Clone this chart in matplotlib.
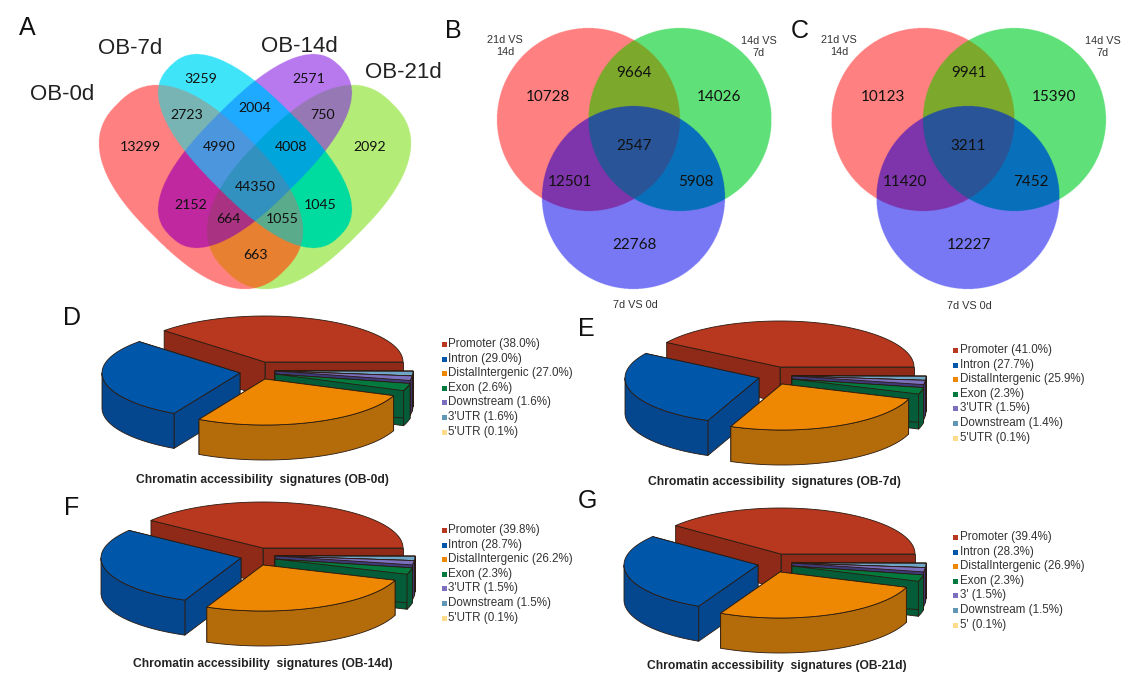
import numpy as np
import matplotlib
matplotlib.use('Agg')
import matplotlib.pyplot as plt
from matplotlib.patches import Polygon

plt.rcParams['font.family'] = ['Liberation Sans', 'DejaVu Sans']

# venn counts
venn_a_names = ['OB-0d', 'OB-7d', 'OB-14d', 'OB-21d']
venn_a_counts = [13299, 3259, 2571, 2092, 2723, 2004, 750, 4990, 4008, 44350,
                 2152, 1045, 664, 1055, 663]
venn_b_counts = [10728, 14026, 9664, 2547, 12501, 5908, 22768]
venn_c_counts = [10123, 15390, 9941, 3211, 11420, 7452, 12227]
venn_names = ['21d VS\n14d', '14d VS\n7d', '7d VS 0d']

# pie values
pie_d_labels = ['Promoter', 'Intron', 'DistalIntergenic', 'Exon', 'Downstream', "3'UTR", "5'UTR"]
pie_d_values = [38.0, 29.0, 27.0, 2.6, 1.6, 1.6, 0.1]
pie_e_labels = ['Promoter', 'Intron', 'DistalIntergenic', 'Exon', "3'UTR", 'Downstream', "5'UTR"]
pie_e_values = [41.0, 27.7, 25.9, 2.3, 1.5, 1.4, 0.1]
pie_f_labels = ['Promoter', 'Intron', 'DistalIntergenic', 'Exon', "3'UTR", 'Downstream', "5'UTR"]
pie_f_values = [39.8, 28.7, 26.2, 2.3, 1.5, 1.5, 0.1]
pie_g_labels = ['Promoter', 'Intron', 'DistalIntergenic', 'Exon', "3'", 'Downstream', "5'"]
pie_g_values = [39.4, 28.3, 26.9, 2.3, 1.5, 1.5, 0.1]

top_colors = ['#B8381F', '#0056A9', '#EE8802', '#057A3E', '#7B70BE', '#6FA6C8', '#FFDF90']
side_colors = ['#8E2A17', '#05478F', '#B46C0A', '#045C38', '#3F3A7A', '#3F3A7A', '#3F3A7A']
key_colors = ['#B8381F', '#0056A9', '#EE8802', '#057A3E', '#7B70BE', '#5F97B5', '#FFDB8C']

# colours of the overlap regions, keyed by set bits
venn4_colors = {1: (255, 128, 128), 2: (64, 228, 248), 4: (184, 120, 238), 8: (180, 236, 120),
                3: (120, 180, 180), 5: (192, 40, 160), 6: (30, 170, 255), 12: (150, 120, 180),
                10: (0, 220, 160), 9: (232, 128, 50), 7: (75, 150, 220), 14: (0, 165, 220),
                13: (170, 50, 130), 11: (90, 170, 140), 15: (50, 145, 190), 0: (255, 255, 255)}
venn3_colors = {1: (255, 128, 128), 2: (96, 224, 120), 4: (120, 120, 245),
                3: (124, 168, 44), 5: (126, 52, 170), 6: (8, 112, 186), 7: (42, 84, 152),
                0: (255, 255, 255)}


def region_image(ax, masks, colors, extent, xx):
    idx = np.zeros(xx.shape, dtype=int)
    for bit, mask in enumerate(masks):
        idx += mask.astype(int) << bit
    rgb = np.zeros(xx.shape + (3,), dtype=np.uint8)
    for key, col in colors.items():
        rgb[idx == key] = col
    ax.imshow(rgb, extent=extent, origin='upper', interpolation='antialiased', zorder=1, aspect='auto')


def grid(extent, ss=3):
    x0, x1, y1, y0 = extent
    xs = np.arange(x0, x1, 1 / ss) + 0.5 / ss
    ys = np.arange(y0, y1, 1 / ss) + 0.5 / ss
    return np.meshgrid(xs, ys)


def ellipse_mask(xx, yy, cx, cy, a, b, sign, p=2.5):
    dx, dy = xx - cx, yy - cy
    u = (dx + sign * dy) / np.sqrt(2)
    v = (dx - sign * dy) / np.sqrt(2)
    return np.abs(u / a) ** p + np.abs(v / b) ** p <= 1


def arc(cx, cy, rx, ry, t0, t1):
    t = np.radians(np.linspace(t0, t1, max(int(abs(t1 - t0)) + 2, 3)))
    return np.column_stack([cx + rx * np.cos(t), cy - ry * np.sin(t)])


def pie3d(ax, values, hub, rx, offsets, ry=46, depth=35):
    edges = np.concatenate([[0], np.cumsum(values)]) / np.sum(values) * 360
    # back to front
    for i in [0, 6, 5, 4, 3, 1, 2]:
        t0, t1 = edges[i], edges[i + 1]
        cx, cy = hub[0] + offsets[i][0], hub[1] + offsets[i][1]
        style = dict(lw=0.6, ec='#2a1a10', joinstyle='round')
        for t in (t0, t1):
            p = arc(cx, cy, rx, ry, t, t)[0]
            ax.add_patch(Polygon([(cx, cy), p, (p[0], p[1] + depth), (cx, cy + depth)],
                                 fc=side_colors[i], zorder=3, **style))
        r0, r1 = max(t0, 180), min(t1, 360)
        if r1 > r0:
            a = arc(cx, cy, rx, ry, r0, r1)
            ax.add_patch(Polygon(np.vstack([a, (a + [0, depth])[::-1]]),
                                 fc=side_colors[i], zorder=3, **style))
        ax.add_patch(Polygon(np.vstack([[cx, cy], arc(cx, cy, rx, ry, t0, t1)]),
                             fc=top_colors[i], zorder=3, **style))


def legend(ax, labels, values, x, y):
    for i, (lab, val) in enumerate(zip(labels, values)):
        yy = y + i * 14.6
        ax.plot([x], [yy], 's', ms=3.6, color=key_colors[i], mew=0, zorder=4)
        ax.text(x + 4.5, yy, f'{lab} ({val:.1f}%)', fontsize=8.4, color='#333333', va='center', ha='left')


fig = plt.figure(figsize=(11.47, 6.84), dpi=100)
ax = fig.add_axes([0, 0, 1, 1])

# panel A
ext_a = (90, 420, 295, 45)
xx, yy = grid(ext_a)
masks = [ellipse_mask(xx, yy, 201, 187, 118, 68, 1),
         ellipse_mask(xx, yy, 255, 151, 120, 52, 1),
         ellipse_mask(xx, yy, 255, 151, 120, 52, -1),
         ellipse_mask(xx, yy, 309, 187, 118, 68, -1)]
region_image(ax, masks, venn4_colors, ext_a, xx)
a_pos = [(140, 147), (201, 79), (309, 79), (370, 147), (187, 115), (255, 108), (323, 115),
         (219, 147), (291, 147), (255, 187), (191, 205), (320, 205), (228, 219), (282, 219), (255, 255)]
for n, p in zip(venn_a_counts, a_pos):
    ax.text(p[0], p[1], str(n), fontsize=10.2, family='Lato', ha='center', va='center',
            color='#111111', zorder=5)
for name, p in zip(venn_a_names, [(62, 94), (130, 49), (299, 46), (403, 72)]):
    ax.text(p[0], p[1], name, fontsize=16, ha='center', va='center', color='#222222')

# panels B and C
for counts, dx, ext in [(venn_b_counts, 0, (490, 780, 295, 20)),
                        (venn_c_counts, 334.5, (825, 1115, 295, 20))]:
    xx, yy = grid(ext)
    r = 91.5
    masks = [(xx - 588.5 - dx) ** 2 + (yy - 119.5) ** 2 <= r ** 2,
             (xx - 680 - dx) ** 2 + (yy - 119.5) ** 2 <= r ** 2,
             (xx - 633.5 - dx) ** 2 + (yy - 197.5) ** 2 <= r ** 2]
    region_image(ax, masks, venn3_colors, ext, xx)
    pos = [(548, 97), (719, 97), (634, 73), (634, 146), (570, 182), (696, 182), (634, 245)]
    for n, p in zip(counts, pos):
        ax.text(p[0] + dx, p[1], str(n), fontsize=11, family='Lato', ha='center', va='center',
                color='#111111', zorder=5)

for name, p in zip(venn_names, [(505, 46), (759, 47), (635, 305)]):
    ax.text(p[0], p[1], name, fontsize=7.8, ha='center', va='center', color='#333333', linespacing=1.25)
for name, p in zip(venn_names, [(839, 46), (1103, 47), (969, 306)]):
    ax.text(p[0], p[1], name, fontsize=7.8, ha='center', va='center', color='#333333', linespacing=1.25)

# pies
small = (10, 9)
pie3d(ax, pie_d_values, (265, 362), 138, [(0, 0), (-25, 11), (0, 17), (10, 12), small, small, small])
pie3d(ax, pie_e_values, (780, 367), 134, [(0, 0), (-21, 11), (2, 17), (12, 12), (12, 9), (12, 9), (12, 9)])
pie3d(ax, pie_f_values, (263, 548), 140, [(0, 0), (-22, 10), (0, 17), (12, 11), (12, 8), (12, 8), (12, 8)])
pie3d(ax, pie_g_values, (781, 554), 134, [(0, 0), (-23, 11), (-1, 18), (11, 12), (11, 9), (11, 9), (11, 9)])

legend(ax, pie_d_labels, pie_d_values, 444, 344)
legend(ax, pie_e_labels, pie_e_values, 955, 350)
legend(ax, pie_f_labels, pie_f_values, 443.5, 530)
legend(ax, pie_g_labels, pie_g_values, 955, 537)

for title, p in [('Chromatin accessibility  signatures (OB-0d)', (262, 480)),
                 ('Chromatin accessibility  signatures (OB-7d)', (774, 482)),
                 ('Chromatin accessibility  signatures (OB-14d)', (263, 664)),
                 ('Chromatin accessibility  signatures (OB-21d)', (777, 666))]:
    ax.text(p[0], p[1], title, fontsize=8.7, fontweight='bold', ha='center', va='center', color='#222222')

panel_pos = {'A': (27, 28), 'B': (453, 31), 'C': (800, 31), 'D': (72, 318),
             'E': (586, 329), 'F': (72, 508), 'G': (587, 501)}
for letter, p in panel_pos.items():
    ax.text(p[0], p[1], letter, fontsize=18, ha='center', va='center', color='#111111')

ax.set_xlim(0, 1147)
ax.set_ylim(684, 0)
ax.axis('off')
fig.savefig('out.png', dpi=100)
